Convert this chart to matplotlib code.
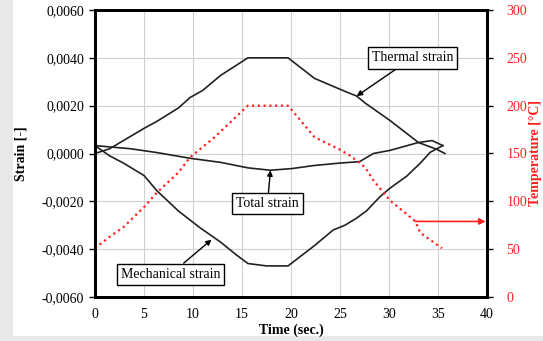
import matplotlib.pyplot as plt
from matplotlib.patches import Rectangle
from matplotlib.ticker import FuncFormatter

# Thermal strain (-) vs time (s)
thermal_time = [0, 1.5, 2.9, 5.0, 6.3, 8.5, 9.7, 11.0, 12.8, 15.6, 19.7, 22.4, 25.5, 26.7, 27.6, 30.1, 33.0, 34.9, 35.7]
thermal_strain = [0.0, 0.0002, 0.00054, 0.00105, 0.00134, 0.0019, 0.00234, 0.00264, 0.00326, 0.0040, 0.0040,
                  0.00314, 0.0026, 0.0024, 0.0021, 0.00138, 0.00046, 0.00017, 0.0]

# Total strain (-)
total_time = [0, 3.6, 6.3, 9.7, 12.8, 15.6, 17.9, 20.1, 22.4, 25.0, 27.0, 28.4, 30.1, 33.0, 34.4, 35.5]
total_strain = [0.00033, 0.0002, 0.00004, -0.0002, -0.00037, -0.0006, -0.0007, -0.00063, -0.0005, -0.0004,
                -0.00034, 0.0, 0.00013, 0.00046, 0.00054, 0.00033]

# Mechanical strain (-)
mech_time = [0, 1.5, 2.9, 5.0, 6.3, 8.5, 10.7, 12.8, 14.3, 15.6, 17.5, 19.7, 22.4, 24.3, 25.5, 26.7, 27.7,
             29.1, 30.1, 31.8, 33.2, 34.2, 35.5]
mech_strain = [0.00033, -0.0001, -0.0004, -0.00092, -0.00155, -0.0024, -0.0031, -0.0037, -0.0042, -0.0046,
               -0.0047, -0.0047, -0.00385, -0.0032, -0.003, -0.0027, -0.0024, -0.0018, -0.00145, -0.00095,
               -0.0004, 0.00005, 0.00033]

# Temperature (deg C)
temp_time = [0, 1.5, 2.9, 5.0, 6.3, 8.5, 9.7, 12.2, 15.6, 19.7, 21.1, 22.4, 25.0, 26.0, 26.9, 27.6, 28.4,
             30.1, 32.7, 33.2, 35.4]
temperature = [51, 63, 73, 94, 109, 130, 146, 167, 200, 200, 183, 167, 154, 148, 141, 135, 122, 101, 79, 67, 51]

x_ticks = [0, 5, 10, 15, 20, 25, 30, 35, 40]
strain_ticks = [-0.006, -0.004, -0.002, 0.0, 0.002, 0.004, 0.006]
temp_ticks = [0, 50, 100, 150, 200, 250, 300]

plt.rcParams["font.family"] = "Liberation Serif"

fig = plt.figure(figsize=(5.43, 3.41), dpi=100, facecolor="#e9e9e9")
# white panel behind the chart
fig.patches.append(Rectangle((13 / 543, 5 / 341), 530 / 543, 336 / 341, transform=fig.transFigure,
                             facecolor="white", edgecolor="none", zorder=-10))

ax = fig.add_axes([95 / 543, 44 / 341, 392 / 543, 287 / 341])
ax.set_facecolor("white")

ax.plot(thermal_time, thermal_strain, color="#222222", lw=1.2)
ax.plot(total_time, total_strain, color="#222222", lw=1.2)
ax.plot(mech_time, mech_strain, color="#222222", lw=1.2)

ax.set_xlim(0, 40)
ax.set_ylim(-0.006, 0.006)
ax.set_xticks(x_ticks)
ax.set_yticks(strain_ticks)
ax.yaxis.set_major_formatter(FuncFormatter(lambda v, p: f"{v:.4f}".replace(".", ",").replace("-0,0000", "0,0000")))
ax.grid(True, color="#d0d0d0", lw=0.8)
ax.set_axisbelow(True)
ax.tick_params(axis="x", length=0, pad=8, labelsize=10)
ax.tick_params(axis="y", length=4, width=1, direction="out", labelsize=10, pad=4)
for side in ["left", "bottom", "top", "right"]:
    ax.spines[side].set_linewidth(2)
ax.set_xlabel("Time (sec.)", fontweight="bold", fontsize=10, labelpad=2)
ax.set_ylabel("Strain [-]", fontweight="bold", fontsize=10)
ax.yaxis.set_label_coords(-0.172, 0.5)

# Labels with arrows
box = dict(boxstyle="square,pad=0.3", facecolor="white", edgecolor="black", lw=1)
arrow = dict(arrowstyle="-|>", color="black", lw=1, mutation_scale=8, shrinkA=0, shrinkB=0)
ax.annotate("Thermal strain", xy=(26.7, 0.0024), xytext=(32.4, 0.0040), ha="center", va="center",
            fontsize=10, bbox=box, arrowprops=arrow)
ax.annotate("Total strain", xy=(17.9, -0.0007), xytext=(17.6, -0.0021), ha="center", va="center",
            fontsize=10, bbox=box, arrowprops=arrow)
ax.annotate("Mechanical strain", xy=(11.9, -0.0036), xytext=(7.7, -0.00505), ha="center", va="center",
            fontsize=10, bbox=box, arrowprops=arrow)

# Temperature on the right axis
ax2 = ax.twinx()
ax2.plot(temp_time, temperature, color="#ff2020", lw=1.6, linestyle=(0, (1, 1.6)))
ax2.set_ylim(0, 300)
ax2.set_yticks(temp_ticks)
ax2.tick_params(axis="y", length=4, width=1, colors="black", labelcolor="#ff2020", labelsize=10, pad=10)
for side in ["left", "bottom", "top", "right"]:
    ax2.spines[side].set_linewidth(2)
ax2.set_ylabel("Temperature [°C]", color="#ff2020", fontweight="bold", fontsize=10)
ax2.yaxis.set_label_coords(1.108, 0.5)
ax2.annotate("", xy=(40, 79), xytext=(32.7, 79),
             arrowprops=dict(arrowstyle="-|>", color="#ff2020", lw=1.2, mutation_scale=9, shrinkA=0, shrinkB=1))

fig.savefig("out.png", dpi=100, facecolor=fig.get_facecolor())
